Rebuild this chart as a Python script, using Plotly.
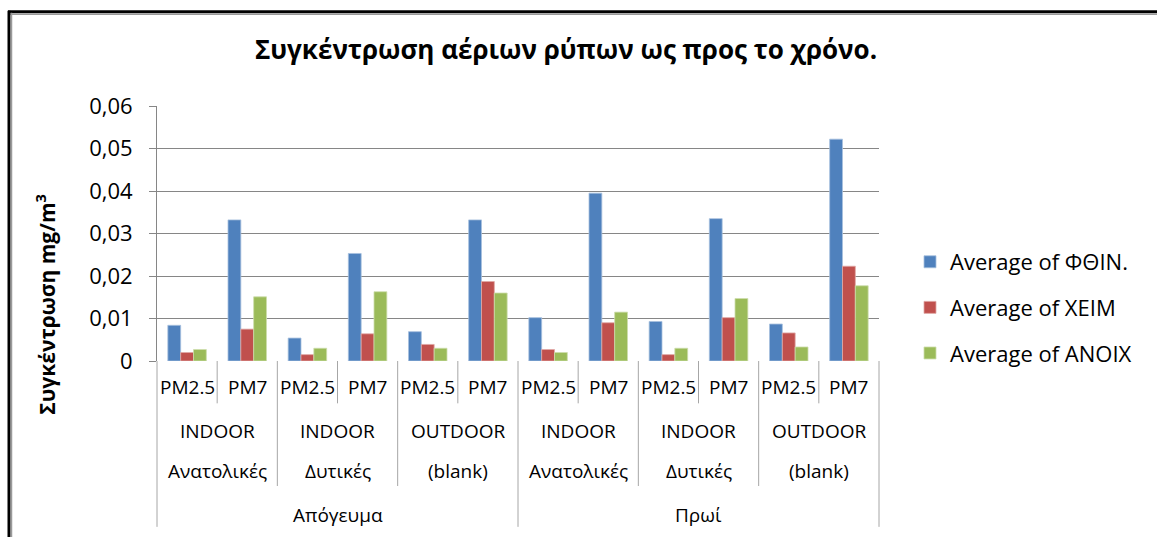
import plotly.graph_objects as go

# ---- data ----
periods = ["Απόγευμα"] * 6 + ["Πρωί"] * 6
locations = ["INDOOR", "INDOOR", "INDOOR", "INDOOR", "OUTDOOR", "OUTDOOR"] * 2
sides = ["Ανατολικές", "Ανατολικές", "Δυτικές", "Δυτικές", "(blank)", "(blank)"] * 2
pms = ["PM2.5", "PM7"] * 6

series_names = ["Average of ΦΘΙΝ.", "Average of XEIM", "Average of ANOIX"]
fthin = [0.0084, 0.0332, 0.0054, 0.0253, 0.0069, 0.0332, 0.0102, 0.0395, 0.0093, 0.0335, 0.0087, 0.0522]
xeim = [0.0020, 0.0075, 0.0015, 0.0064, 0.0039, 0.0187, 0.0027, 0.0090, 0.0015, 0.0102, 0.0066, 0.0223]
anoix = [0.0027, 0.0151, 0.0030, 0.0163, 0.0030, 0.0160, 0.0020, 0.0115, 0.0030, 0.0147, 0.0033, 0.0177]

y_ticks = [0, 0.01, 0.02, 0.03, 0.04, 0.05, 0.06]
y_ticktext = ["0", "0,01", "0,02", "0,03", "0,04", "0,05", "0,06"]

title_text = "Συγκέντρωση αέριων ρύπων ως προς το χρόνο."
ytitle_text = "Συγκέντρωση mg/m<sup>3</sup>"

colors = ["#4F81BD", "#C0504D", "#9BBB59"]
edge_colors = ["#A7C0DE", "#DFA8A6", "#CDDDAC"]

# ---- layout geometry (pixels) ----
W, H = 1157, 537
L, R, T, B = 157, 879, 105.5, 361.5
PW, PH = R - L, B - T
FONT = "Open Sans"


def px(xp):
    return (xp - L) / PW


def py(yp):
    return (B - yp) / PH


n = len(pms)
xs = list(range(n))

fig = go.Figure()
for name, vals, c, ec in zip(series_names, [fthin, xeim, anoix], colors, edge_colors):
    fig.add_trace(go.Bar(
        x=xs, y=vals, name=name, legendgroup=name,
        marker=dict(color=c, line=dict(color=ec, width=0.8)),
    ))

annotations = []
shapes = []

# hierarchical category labels (innermost first), with their row centre in pixels
levels = [(pms, 388), (locations, 432), (sides, 472), (periods, 516)]


def changed(j, i):
    return levels[j][0][i] != levels[j][0][i - 1]


def runs(level_index):
    out = []
    start = 0
    for i in range(1, n + 1):
        if i == n or any(changed(j, i) for j in range(level_index, len(levels))):
            out.append((start, i - 1))
            start = i
    return out


for li, (labels, ypix) in enumerate(levels):
    for s, e in runs(li):
        annotations.append(dict(
            x=(s + e) / 2, xref="x", y=py(ypix), yref="paper",
            text=labels[s], showarrow=False, xanchor="center", yanchor="middle",
            font=dict(family=FONT, size=19, color="#000000"),
        ))

# divider lines: depth depends on outermost level that changes
line_bottoms = [404, 487, 487, 528]
for b in range(0, n + 1):
    if b == 0 or b == n:
        bottom = 528
    else:
        ch = [j for j in range(len(levels)) if changed(j, b)]
        bottom = line_bottoms[max(ch)] if ch else line_bottoms[0]
    xpos = b / n
    shapes.append(dict(type="line", xref="paper", yref="paper",
                       x0=xpos, x1=xpos, y0=0, y1=py(bottom),
                       line=dict(color="#A6A6A6", width=1)))

# outer frame (top and left)
shapes.append(dict(type="line", xref="paper", yref="paper",
                   x0=px(8), x1=px(W + 5), y0=py(11), y1=py(11),
                   line=dict(color="#000000", width=3)))
shapes.append(dict(type="line", xref="paper", yref="paper",
                   x0=px(8), x1=px(W + 5), y0=py(13.5), y1=py(13.5),
                   line=dict(color="#9A9A9A", width=1.5)))
shapes.append(dict(type="line", xref="paper", yref="paper",
                   x0=px(9), x1=px(9), y0=py(10), y1=py(H + 5),
                   line=dict(color="#000000", width=3)))
shapes.append(dict(type="line", xref="paper", yref="paper",
                   x0=px(11.5), x1=px(11.5), y0=py(12), y1=py(H + 5),
                   line=dict(color="#9A9A9A", width=1.5)))

# y-axis title
annotations.append(dict(
    x=px(46), xref="paper", y=py(305), yref="paper", text="<b>" + ytitle_text + "</b>",
    textangle=-90, showarrow=False, xanchor="center", yanchor="middle",
    font=dict(family=FONT, size=21, color="#000000"),
))

fig.update_layout(
    width=W, height=H,
    margin=dict(l=L, r=W - R, t=T, b=H - B, pad=0),
    paper_bgcolor="white", plot_bgcolor="white",
    barmode="group", bargap=0.36, bargroupgap=0,
    title=dict(text="<b>" + title_text + "</b>", x=566 / W, xanchor="center",
               y=1 - 50 / H, yanchor="middle", yref="container",
               font=dict(family=FONT, size=26, color="#000000")),
    xaxis=dict(range=[-0.5, n - 0.5], showticklabels=False, showgrid=False,
               zeroline=False, showline=False, ticks=""),
    yaxis=dict(range=[0, 0.06], tickvals=y_ticks, ticktext=y_ticktext,
               showgrid=True, gridcolor="#868686", gridwidth=1,
               showline=True, linecolor="#868686", linewidth=1,
               ticks="outside", ticklen=7, tickcolor="#868686",
               zeroline=False, ticklabelstandoff=12,
               tickfont=dict(family=FONT, size=22, color="#000000")),
    legend=dict(x=px(910), xanchor="left", y=py(241), yanchor="top",
                traceorder="grouped", tracegroupgap=14,
                font=dict(family=FONT, size=22, color="#000000"),
                itemwidth=30, bgcolor="rgba(0,0,0,0)"),
    showlegend=True,
    annotations=annotations,
    shapes=shapes,
)

fig.write_html("out.html")
